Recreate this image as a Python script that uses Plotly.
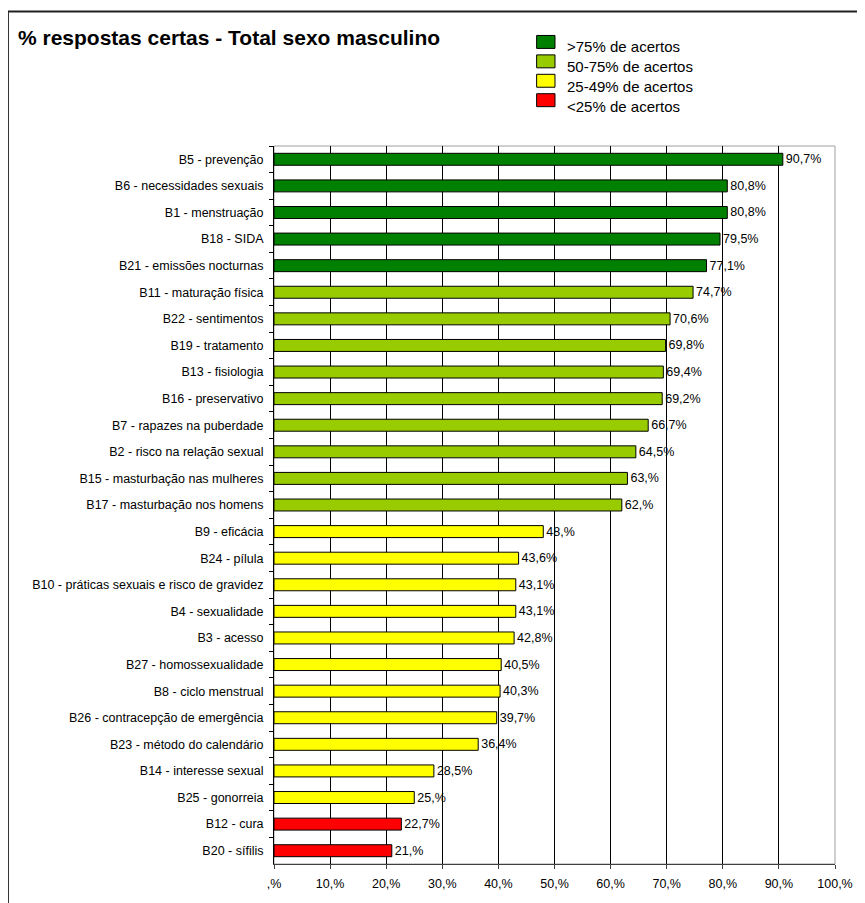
"""Horizontal bar chart: % correct answers, male total."""

import plotly.graph_objects as go

categories = [
    "B5 - prevenção", "B6 - necessidades sexuais", "B1 - menstruação",
    "B18 - SIDA", "B21 - emissões nocturnas", "B11 - maturação física",
    "B22 - sentimentos", "B19 - tratamento", "B13 - fisiologia",
    "B16 - preservativo", "B7 - rapazes na puberdade",
    "B2 - risco na relação sexual", "B15 - masturbação nas mulheres",
    "B17 - masturbação nos homens", "B9 - eficácia", "B24 - pílula",
    "B10 - práticas sexuais e risco de gravidez", "B4 - sexualidade",
    "B3 - acesso", "B27 - homossexualidade", "B8 - ciclo menstrual",
    "B26 - contracepção de emergência", "B23 - método do calendário",
    "B14 - interesse sexual", "B25 - gonorreia", "B12 - cura", "B20 - sífilis",
]
values = [
    90.7, 80.8, 80.8, 79.5, 77.1, 74.7, 70.6, 69.8, 69.4, 69.2, 66.7, 64.5,
    63.0, 62.0, 48.0, 43.6, 43.1, 43.1, 42.8, 40.5, 40.3, 39.7, 36.4, 28.5,
    25.0, 22.7, 21.0,
]
tick_vals = [0, 10, 20, 30, 40, 50, 60, 70, 80, 90, 100]
tick_text = [",%", "10,%", "20,%", "30,%", "40,%", "50,%", "60,%", "70,%",
             "80,%", "90,%", "100,%"]

legend_labels = [">75% de acertos", "50-75% de acertos", "25-49% de acertos",
                 "<25% de acertos"]
legend_colors = ["#008000", "#99CC00", "#FFFF00", "#FF0000"]

FONT = "Liberation Sans, Arial, sans-serif"
OFF = 8  # the page body margin shifts the figure by this much
W, H = 865 - OFF, 903 - OFF
PL, PR, PT, PB = 274 - OFF, 839 - OFF, 146 - OFF, 867 - OFF


def px_x(x):
    # x in reference-page pixels -> paper coords
    return (x - OFF - PL) / (PR - PL)


def px_y(y):
    return (PB - (y - OFF)) / (PB - PT)


def band_color(v):
    if v > 75:
        return legend_colors[0]
    if v >= 50:
        return legend_colors[1]
    if v >= 25:
        return legend_colors[2]
    return legend_colors[3]


def excel_pct(v):
    # mimics the "#,#%" style labels of the original (48 -> "48,%")
    s = f"{v:.1f}".rstrip("0")
    return s.replace(".", ",") + "%"


fig = go.Figure(go.Bar(
    x=values,
    y=categories,
    orientation="h",
    marker=dict(color=[band_color(v) for v in values],
                line=dict(color="black", width=1)),
    text=[excel_pct(v) for v in values],
    textposition="outside",
    constraintext="none",
    textfont=dict(family=FONT, size=12.5, color="black"),
    cliponaxis=False,
    hoverinfo="x+y",
))

shapes = [
    # outer chart frame (runs off the page right and bottom)
    dict(type="rect", xref="paper", yref="paper",
         x0=px_x(6), x1=px_x(890), y0=px_y(930), y1=px_y(11),
         line=dict(color="#202020", width=2), layer="below"),
    # plot area border
    dict(type="rect", xref="paper", yref="paper", x0=0, x1=1, y0=0, y1=1,
         line=dict(color="#A0A0A0", width=1), layer="below"),
]
annotations = [
    dict(text="<b>% respostas certas - Total sexo masculino</b>",
         xref="paper", yref="paper", x=px_x(14), y=px_y(37),
         xanchor="left", yanchor="middle", showarrow=False,
         font=dict(family=FONT, size=21, color="black")),
]
for i, (lab, col) in enumerate(zip(legend_labels, legend_colors)):
    top = 35 + 19.5 * i
    shapes.append(dict(type="rect", xref="paper", yref="paper",
                       x0=px_x(538.5), x1=px_x(557),
                       y0=px_y(top + 13), y1=px_y(top),
                       fillcolor=col, line=dict(color="black", width=1)))
    annotations.append(dict(text=lab, xref="paper", yref="paper",
                            x=px_x(567), y=px_y(46.5 + 19.8 * i),
                            xanchor="left", yanchor="middle", showarrow=False,
                            font=dict(family=FONT, size=15, color="black")))

fig.update_layout(
    width=W, height=H, autosize=False,
    margin=dict(l=PL, r=W - PR, t=PT, b=H - PB, pad=0),
    paper_bgcolor="white", plot_bgcolor="white",
    showlegend=False,
    bargap=0.55,
    font=dict(family=FONT, size=12.5, color="black"),
    shapes=shapes,
    annotations=annotations,
    xaxis=dict(
        range=[0, 100], tickvals=tick_vals, ticktext=tick_text,
        showgrid=False,
        minor=dict(tickvals=tick_vals[1:-1], showgrid=True,
                   gridcolor="black", gridwidth=1, ticks=""),
        showline=True, linecolor="#404040", linewidth=1,
        ticks="outside", ticklen=4, tickcolor="#404040",
        ticklabelstandoff=4, zeroline=False,
        tickfont=dict(family=FONT, size=12.5, color="black"),
    ),
    yaxis=dict(
        autorange="reversed", showgrid=False,
        showline=True, linecolor="black", linewidth=1,
        ticks="outside", ticklen=4, tickcolor="black",
        tickson="boundaries", ticklabelstandoff=7,
        tickfont=dict(family=FONT, size=12.5, color="black"),
    ),
)

fig.write_html("out.html")
